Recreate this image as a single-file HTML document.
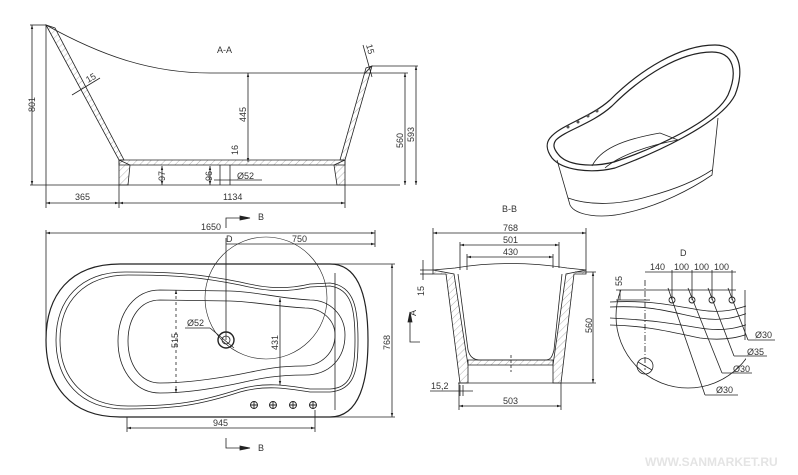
<!DOCTYPE html>
<html><head><meta charset="utf-8"><style>
html,body{margin:0;padding:0;background:#fff;}
svg{display:block;}
text{font-family:"Liberation Sans",sans-serif;font-size:9px;fill:#333;}
</style></head><body>
<svg width="798" height="475" viewBox="0 0 798 475" xmlns="http://www.w3.org/2000/svg">
<defs>
<pattern id="h" width="5" height="5" patternUnits="userSpaceOnUse" patternTransform="rotate(45)"><line x1="0" y1="0" x2="0" y2="5" stroke="#666" stroke-width="0.5"/></pattern>
<marker id="a" viewBox="0 0 10 10" refX="10" refY="5" markerWidth="5" markerHeight="5" orient="auto-start-reverse"><path d="M0,2 L10,5 L0,8z" fill="#222"/></marker>
<clipPath id="dc"><rect x="600" y="290" width="146" height="110"/></clipPath>
</defs>
<g stroke="#222" fill="none" stroke-width="0.8">
<!-- A-A side view -->
<path d="M46,25 C100,55 150,73 210,73 L365,73 C368,70 370,67 372,66"/>
<path d="M46,25 L119,160 L124,160 L55,28 Z" fill="url(#h)"/>
<path d="M372,66 L345,160 L340,160 L366,68 Z" fill="url(#h)"/>
<path d="M119,160 L345,160 L345,165 L119,165Z" fill="url(#h)"/>
<path d="M119,160 L119,185 L128,185 L130,165 Z" fill="url(#h)"/>
<path d="M345,160 L345,185 L337,185 L334,165 Z" fill="url(#h)"/>
<line x1="30" y1="185" x2="400" y2="185"/>
<line x1="30" y1="25" x2="46" y2="25"/>
<line x1="32" y1="25" x2="32" y2="185" marker-start="url(#a)" marker-end="url(#a)"/>
<line x1="46" y1="25" x2="46" y2="208"/><line x1="119" y1="185" x2="119" y2="208"/><line x1="345" y1="185" x2="345" y2="208"/>
<line x1="46" y1="203" x2="119" y2="203" marker-start="url(#a)" marker-end="url(#a)"/>
<line x1="119" y1="203" x2="345" y2="203" marker-start="url(#a)" marker-end="url(#a)"/>
<line x1="248" y1="73" x2="248" y2="162" marker-start="url(#a)" marker-end="url(#a)"/>
<line x1="372" y1="66" x2="418" y2="66"/><line x1="365" y1="73" x2="408" y2="73"/>
<line x1="405" y1="73" x2="405" y2="185" marker-start="url(#a)" marker-end="url(#a)"/>
<line x1="416" y1="66" x2="416" y2="185" marker-start="url(#a)" marker-end="url(#a)"/>
<line x1="162" y1="166" x2="162" y2="185" marker-start="url(#a)" marker-end="url(#a)"/>
<line x1="210" y1="166" x2="210" y2="185" marker-start="url(#a)" marker-end="url(#a)"/>
<line x1="220" y1="165" x2="220" y2="185"/><line x1="230" y1="165" x2="230" y2="185"/>
<line x1="214" y1="180" x2="262" y2="180"/>
<line x1="72" y1="95" x2="100" y2="78"/><line x1="363" y1="45" x2="372" y2="77"/>
<!-- Plan view -->
<path d="M120,264 L330,264 C360,264 368,300 368,340 C368,380 360,417 330,417 L120,417 C70,417 46,385 46,340 C46,295 70,264 120,264 Z" stroke-width="1.2"/>
<path d="M125,272 C175,272 200,274 240,282 C265,288 285,290 310,284 L330,283 C355,286 358,310 358,340 C358,370 355,390 330,392 L310,392 C285,388 265,385 240,392 C200,405 175,409 125,409 C80,409 56,380 56,340 C56,300 80,272 125,272 Z"/>
<path d="M128,275 C175,275 200,277 240,285 C265,291 285,293 310,287 L330,286 C352,289 355,310 355,340 C355,370 352,388 330,389 L310,389 C285,385 265,382 240,389 C200,402 175,406 128,406 C84,406 60,378 60,340 C60,302 84,275 128,275 Z"/>
<line x1="335" y1="273" x2="335" y2="410"/>
<path d="M160,290 L230,291 C260,292 275,298 310,300 C330,300 345,315 345,335 C345,358 330,375 305,375 C270,375 255,380 230,385 C200,391 180,393 160,393 C135,393 118,370 118,341 C118,312 135,290 160,290 Z"/>
<path d="M160,300 L230,301 C258,302 272,306 305,308 C322,308 335,320 335,335 C335,352 322,366 303,366 C270,366 255,372 230,376 C200,381 180,383 160,383 C140,383 128,364 128,341 C128,318 140,300 160,300 Z"/>
<circle cx="266" cy="298" r="61" stroke-width="0.6"/>
<circle cx="226" cy="340" r="8" stroke-width="1.4"/><circle cx="226" cy="340" r="4"/>
<g stroke-width="0.9">
<circle cx="254" cy="405" r="3.5"/><path d="M250,405h8M254,401v8"/>
<circle cx="273" cy="405" r="3.5"/><path d="M269,405h8M273,401v8"/>
<circle cx="293" cy="405" r="3.5"/><path d="M289,405h8M293,401v8"/>
<circle cx="313" cy="405" r="3.5"/><path d="M309,405h8M313,401v8"/>
</g>
<line x1="46" y1="230" x2="46" y2="340"/><line x1="375" y1="230" x2="375" y2="247"/>
<line x1="46" y1="233" x2="375" y2="233" marker-start="url(#a)" marker-end="url(#a)"/>
<line x1="226" y1="244" x2="375" y2="244" marker-end="url(#a)"/>
<line x1="226" y1="238" x2="226" y2="340"/>
<line x1="330" y1="264" x2="395" y2="264"/><line x1="330" y1="417" x2="395" y2="417"/>
<line x1="392" y1="264" x2="392" y2="417" marker-start="url(#a)" marker-end="url(#a)"/>
<line x1="127" y1="417" x2="127" y2="432"/><line x1="315" y1="410" x2="315" y2="432"/>
<line x1="127" y1="428" x2="315" y2="428" marker-start="url(#a)" marker-end="url(#a)"/>
<line x1="176" y1="290" x2="176" y2="393" marker-start="url(#a)" marker-end="url(#a)" stroke-dasharray="3 3"/>
<line x1="280" y1="298" x2="280" y2="385" marker-start="url(#a)" marker-end="url(#a)"/>
<line x1="185" y1="328" x2="210" y2="328"/><line x1="210" y1="328" x2="234" y2="348"/>
<path d="M226,228 V218 H246" /><path d="M240,216 L250,218 L240,220Z" fill="#222"/>
<path d="M226,438 V448 H246" /><path d="M240,446 L250,448 L240,450Z" fill="#222"/>
<path d="M420,342 H410 V318"/><path d="M408,322 L410,312 L412,322Z" fill="#222"/>
<!-- B-B -->
<path d="M433,270 L455,268 C490,262 530,262 567,268 L586,270"/>
<path d="M433,274 L446,274 L460,383 L468,383 L468,365 L454,274 L433,270 Z" fill="url(#h)"/>
<path d="M586,274 L574,274 L561,383 L553,383 L553,365 L566,274 L586,270 Z" fill="url(#h)"/>
<path d="M458,274 L468,350 C470,358 475,360 480,360 L545,360 C550,360 552,358 554,350 L562,274"/>
<path d="M468,360 L553,360 L553,365 L468,365 Z" fill="url(#h)"/>
<line x1="458" y1="383" x2="563" y2="383"/>
<line x1="511" y1="355" x2="511" y2="372" stroke-dasharray="3 2"/>
<line x1="433" y1="228" x2="433" y2="270"/><line x1="586" y1="228" x2="586" y2="270"/>
<line x1="460" y1="242" x2="460" y2="270"/><line x1="559" y1="242" x2="559" y2="268"/>
<line x1="467" y1="254" x2="467" y2="270"/><line x1="553" y1="254" x2="553" y2="268"/>
<line x1="433" y1="233" x2="586" y2="233" marker-start="url(#a)" marker-end="url(#a)"/>
<line x1="460" y1="245" x2="559" y2="245" marker-start="url(#a)" marker-end="url(#a)"/>
<line x1="467" y1="257" x2="553" y2="257" marker-start="url(#a)" marker-end="url(#a)"/>
<line x1="575" y1="272" x2="596" y2="272"/><line x1="563" y1="383" x2="596" y2="383"/>
<line x1="593" y1="272" x2="593" y2="383" marker-start="url(#a)" marker-end="url(#a)"/>
<line x1="459" y1="383" x2="459" y2="410"/><line x1="561" y1="383" x2="561" y2="410"/>
<line x1="459" y1="406" x2="561" y2="406" marker-start="url(#a)" marker-end="url(#a)"/>
<line x1="430" y1="391" x2="473" y2="391"/><line x1="460" y1="385" x2="460" y2="396"/><line x1="463" y1="385" x2="463" y2="396"/>
<line x1="423" y1="260" x2="423" y2="280"/><line x1="420" y1="270" x2="433" y2="270"/><line x1="420" y1="274" x2="433" y2="274"/>
<!-- D detail -->
<g clip-path="url(#dc)">
<circle cx="688" cy="316" r="72"/>
<path d="M610,302 C650,300 670,305 700,310 C730,315 745,305 760,302"/>
<path d="M610,307 C650,305 670,312 700,318 C730,323 745,313 760,309"/>
<path d="M610,318 C650,320 670,323 700,328 C730,333 745,325 760,320"/>
<path d="M610,325 C650,326 670,332 700,338 C730,342 745,335 760,330"/>
</g>
<line x1="616" y1="290" x2="736" y2="290"/>
<line x1="745" y1="290" x2="745" y2="340"/>
<line x1="645" y1="280" x2="645" y2="370" stroke-dasharray="6 2 1 2"/>
<circle cx="645" cy="366" r="8"/><line x1="638" y1="362" x2="652" y2="370"/>
<line x1="620" y1="290" x2="620" y2="300"/><line x1="616" y1="300" x2="650" y2="300"/>
<line x1="645" y1="272" x2="736" y2="272"/>
<g stroke-width="0.9">
<circle cx="672" cy="300" r="3"/><circle cx="692" cy="300" r="3"/><circle cx="712" cy="300" r="3"/><circle cx="732" cy="300" r="3"/>
</g>
<line x1="672" y1="270" x2="672" y2="300"/><line x1="692" y1="270" x2="692" y2="300"/><line x1="712" y1="270" x2="712" y2="300"/><line x1="732" y1="270" x2="732" y2="300"/>
<line x1="668" y1="288" x2="705" y2="395"/><line x1="705" y1="395" x2="738" y2="395"/>
<line x1="688" y1="288" x2="722" y2="373"/><line x1="722" y1="373" x2="752" y2="373"/>
<line x1="708" y1="288" x2="734" y2="356"/><line x1="734" y1="356" x2="767" y2="356"/>
<line x1="728" y1="288" x2="748" y2="340"/><line x1="748" y1="340" x2="775" y2="340"/>
<!-- 3D -->
<g stroke-width="1.2">
<path d="M550,138 C560,125 590,118 610,100 C640,70 680,45 715,45 C740,45 745,70 735,95 C720,125 650,155 615,168 C590,174 562,170 552,158 C546,150 546,143 550,138 Z"/>
<path d="M556,140 C566,130 592,124 612,106 C642,76 680,52 712,52 C734,52 738,72 728,95 C715,122 650,150 614,162 C590,168 566,165 558,154 C553,148 553,144 556,140 Z"/>
</g>
<path d="M557,160 L570,205 C575,215 600,220 630,212 C660,205 690,190 712,175 L718,118"/>
<path d="M568,198 C590,206 620,205 650,196 C680,188 700,178 712,170"/>
<path d="M592,166 C600,150 620,140 660,133 L678,140 C650,145 620,155 605,168"/>
<g fill="#555" stroke="none"><circle cx="568" cy="127" r="1.5"/><circle cx="578" cy="122" r="1.5"/><circle cx="588" cy="116" r="1.5"/><circle cx="597" cy="111" r="1.5"/></g>
</g>
<!-- texts -->
<text x="217" y="53">A-A</text>
<text transform="translate(35,112) rotate(-90)">801</text>
<text transform="translate(246,122) rotate(-90)">445</text>
<text transform="translate(403,148) rotate(-90)">560</text>
<text transform="translate(414,142) rotate(-90)">593</text>
<text transform="translate(238,155) rotate(-90)">16</text>
<text transform="translate(165,181) rotate(-90)">97</text>
<text transform="translate(212,181) rotate(-90)">96</text>
<text x="237" y="179">Ø52</text>
<text transform="translate(88,83) rotate(-30)">15</text>
<text transform="translate(366,45) rotate(75)">15</text>
<text x="75" y="200">365</text>
<text x="223" y="200">1134</text>
<text x="258" y="220">B</text>
<text x="258" y="451">B</text>
<text x="201" y="230">1650</text>
<text x="226" y="242">D</text>
<text x="292" y="242">750</text>
<text x="187" y="326">Ø52</text>
<text transform="translate(178,348) rotate(-90)">515</text>
<text transform="translate(278,350) rotate(-90)">431</text>
<text transform="translate(390,350) rotate(-90)">768</text>
<text x="213" y="426">945</text>
<text transform="translate(416,316) rotate(-90)">A</text>
<text x="502" y="212">B-B</text>
<text x="503" y="231">768</text>
<text x="503" y="243">501</text>
<text x="503" y="255">430</text>
<text transform="translate(424,296) rotate(-90)">15</text>
<text transform="translate(592,333) rotate(-90)">560</text>
<text x="431" y="389">15,2</text>
<text x="503" y="404">503</text>
<text x="680" y="256">D</text>
<text transform="translate(622,286) rotate(-90)">55</text>
<text x="650" y="270">140</text>
<text x="674" y="270">100</text>
<text x="694" y="270">100</text>
<text x="714" y="270">100</text>
<text x="755" y="338">Ø30</text>
<text x="747" y="355">Ø35</text>
<text x="733" y="372">Ø30</text>
<text x="716" y="393">Ø30</text>
<text x="645" y="466" style="font-size:12px;fill:#e4e4e4;font-weight:bold">WWW.SANMARKET.RU</text>
</svg>
</body></html>
